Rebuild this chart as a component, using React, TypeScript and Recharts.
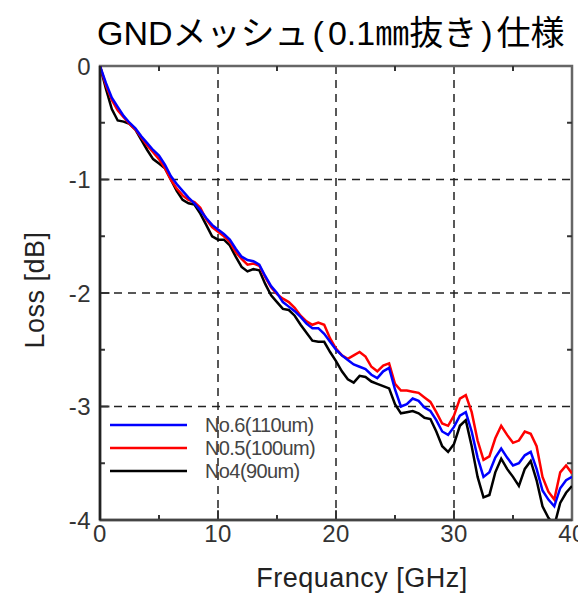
import {
  LineChart,
  Line,
  XAxis,
  YAxis,
  CartesianGrid,
  ReferenceLine,
  ReferenceArea,
  Legend,
  Label,
} from 'recharts';

// frequency points [GHz]
const FREQ = [
  0, 0.5, 1, 1.5, 2, 2.5, 3, 3.5, 4, 4.5,
  5, 5.5, 6, 6.5, 7, 7.5, 8, 8.5, 9, 9.5,
  10, 10.5, 11, 11.5, 12, 12.5, 13, 13.5, 14, 14.5,
  15, 15.5, 16, 16.5, 17, 17.5, 18, 18.5, 19, 19.5,
  20, 20.5, 21, 21.5, 22, 22.5, 23, 23.5, 24, 24.5,
  25, 25.5, 26, 26.5, 27, 27.5, 28, 28.5, 29, 29.5,
  30, 30.5, 31, 31.5, 32, 32.5, 33, 33.5, 34, 34.5,
  35, 35.5, 36, 36.5, 37, 37.5, 38, 38.5, 39, 39.5,
  40,
];

// loss [dB]
const NO6_110UM = [
  0, -0.15, -0.28, -0.36, -0.44, -0.5, -0.55, -0.62, -0.68, -0.74,
  -0.79, -0.87, -0.97, -1.04, -1.1, -1.16, -1.21, -1.27, -1.34, -1.4,
  -1.44, -1.48, -1.53, -1.61, -1.68, -1.71, -1.72, -1.75, -1.85, -1.94,
  -2.0, -2.08, -2.12, -2.16, -2.21, -2.27, -2.31, -2.31, -2.36, -2.43,
  -2.5, -2.55, -2.59, -2.63, -2.65, -2.67, -2.72, -2.75, -2.69, -2.66,
  -2.85, -3.0, -2.98, -2.93, -2.95, -3.01, -3.04, -3.12, -3.22, -3.25,
  -3.18, -3.08, -3.05, -3.22, -3.45, -3.62, -3.58, -3.45, -3.37, -3.45,
  -3.52, -3.5, -3.43, -3.4, -3.55, -3.74, -3.82, -3.88, -3.72, -3.65,
  -3.62,
];

const NO5_100UM = [
  0, -0.17, -0.3, -0.39, -0.45, -0.51, -0.56, -0.63, -0.7, -0.76,
  -0.82, -0.9, -1.0, -1.08, -1.14, -1.18, -1.2, -1.25, -1.35, -1.42,
  -1.46, -1.5, -1.55, -1.64, -1.7, -1.75, -1.74, -1.76, -1.86, -1.95,
  -2.01, -2.05, -2.08, -2.13, -2.2, -2.25, -2.28, -2.26, -2.28, -2.4,
  -2.49, -2.55, -2.58, -2.55, -2.52, -2.56, -2.65, -2.69, -2.64, -2.62,
  -2.8, -2.86, -2.86, -2.87, -2.88, -2.92, -2.96, -3.05, -3.15, -3.17,
  -3.08, -2.93, -2.9, -3.05, -3.3, -3.47, -3.44, -3.28, -3.17, -3.25,
  -3.32, -3.3, -3.22, -3.24, -3.35, -3.62, -3.75, -3.82, -3.58, -3.52,
  -3.59,
];

const NO4_90UM = [
  0, -0.2, -0.38, -0.48, -0.49, -0.51, -0.56, -0.65, -0.74, -0.82,
  -0.86, -0.9, -1.0, -1.1, -1.18, -1.21, -1.22, -1.3, -1.4, -1.5,
  -1.53, -1.53, -1.58, -1.68, -1.77, -1.81, -1.79, -1.8, -1.92, -2.02,
  -2.08, -2.14, -2.15, -2.2, -2.28, -2.35, -2.42, -2.43, -2.43, -2.52,
  -2.6, -2.69, -2.76, -2.79, -2.73, -2.74, -2.78, -2.8, -2.82, -2.84,
  -2.98, -3.06, -3.05, -3.04, -3.06, -3.1, -3.11, -3.22, -3.35, -3.4,
  -3.33, -3.17, -3.12, -3.35, -3.62, -3.8, -3.78, -3.58, -3.46, -3.55,
  -3.62, -3.7, -3.55, -3.48, -3.65, -3.88, -3.98, -4.05, -3.85, -3.76,
  -3.7,
];

const X_TICKS = [0, 10, 20, 30, 40];
const Y_TICKS = [0, -1, -2, -3, -4];
const X_MINOR = [5, 15, 25, 35];
const Y_MINOR = [-0.5, -1.5, -2.5, -3.5];

const SERIES = [
  { key: 'no4', name: 'No4(90um)', color: '#000000' },
  { key: 'no5', name: 'N0.5(100um)', color: '#ff0000' },
  { key: 'no6', name: 'No.6(110um)', color: '#0000ff' },
];
const LEGEND_ORDER = ['no6', 'no5', 'no4'];

const data = FREQ.map((f, i) => ({
  freq: f,
  no6: NO6_110UM[i],
  no5: NO5_100UM[i],
  no4: NO4_90UM[i],
}));

const FONT = "'Liberation Sans', Arial, 'Noto Sans CJK JP', sans-serif";
const tickStyle = { fontSize: 24, fill: '#333', fontFamily: FONT, letterSpacing: 0.5 };

// inward tick lengths in data units
const TX_MINOR = 0.42;
const TY_MINOR = 0.045;
const TX_MAJOR = 0.8;
const TY_MAJOR = 0.085;

const LegendBox = () => (
  <svg width={260} height={72}>
    {LEGEND_ORDER.map((k, i) => {
      const s = SERIES.find(x => x.key === k)!;
      const y = 12 + i * 23;
      return (
        <g key={k}>
          <line x1={0} x2={77} y1={y} y2={y} stroke={s.color} strokeWidth={2.5} />
          <text
            x={95}
            y={y}
            dominantBaseline='central'
            fontSize={20}
            fill='#444'
            letterSpacing={-0.6}
            fontFamily={FONT}
          >
            {s.name}
          </text>
        </g>
      );
    })}
  </svg>
);

const YTitle = (props: any) => {
  const vb = props.viewBox;
  const cx = 27;
  const cy = vb.y + vb.height / 2 - 3;
  return (
    <text
      x={cx}
      y={cy}
      transform={`rotate(-90, ${cx}, ${cy})`}
      textAnchor='middle'
      dominantBaseline='central'
      fontSize={27}
      letterSpacing={0.5}
      fill='#222'
      fontFamily={FONT}
    >
      Loss [dB]
    </text>
  );
};

const XTitle = (props: any) => {
  const vb = props.viewBox;
  const cx = vb.x + vb.width / 2 + 26;
  return (
    <text
      x={cx}
      y={570}
      textAnchor='middle'
      dominantBaseline='central'
      fontSize={27}
      letterSpacing={0.5}
      fill='#222'
      fontFamily={FONT}
    >
      Frequancy [GHz]
    </text>
  );
};

const paren = { margin: '0 4px' };

const App = () => {
  return (
    <div style={{ position: 'relative', width: 578, height: 587 }}>
      <div
        style={{
          position: 'absolute',
          left: 89,
          top: 5,
          fontSize: 34,
          fontFamily: FONT,
          color: '#000',
          whiteSpace: 'nowrap',
          lineHeight: '40px',
        }}
      >
        GNDメッシュ<span style={paren}>(</span>0.1㎜抜き<span style={paren}>)</span>仕様
      </div>
      <LineChart
        width={578}
        height={587}
        data={data}
        margin={{ top: 58, right: 14, bottom: 0, left: 0 }}
      >
        <CartesianGrid
          stroke='#222'
          strokeWidth={1.5}
          strokeDasharray='8 6'
          horizontalValues={[-1, -2, -3]}
          verticalValues={[10, 20, 30]}
        />
        <ReferenceArea x1={0} x2={40} y1={-4} y2={0} fill='none' stroke='#666' strokeWidth={2.5} />
        {X_MINOR.map(v => (
          <ReferenceLine key={`xb${v}`} segment={[{ x: v, y: -4 }, { x: v, y: -4 + TY_MINOR }]} stroke='#333' strokeWidth={2} />
        ))}
        {X_MINOR.map(v => (
          <ReferenceLine key={`xt${v}`} segment={[{ x: v, y: 0 }, { x: v, y: -TY_MINOR }]} stroke='#333' strokeWidth={2} />
        ))}
        {[10, 20, 30].map(v => (
          <ReferenceLine key={`xm${v}`} segment={[{ x: v, y: -4 }, { x: v, y: -4 + TY_MAJOR }]} stroke='#333' strokeWidth={2} />
        ))}
        {Y_MINOR.map(v => (
          <ReferenceLine key={`yl${v}`} segment={[{ x: 0, y: v }, { x: TX_MINOR, y: v }]} stroke='#333' strokeWidth={2} />
        ))}
        {Y_MINOR.map(v => (
          <ReferenceLine key={`yr${v}`} segment={[{ x: 40, y: v }, { x: 40 - TX_MINOR, y: v }]} stroke='#333' strokeWidth={2} />
        ))}
        {[-1, -2, -3].map(v => (
          <ReferenceLine key={`ym${v}`} segment={[{ x: 0, y: v }, { x: TX_MAJOR, y: v }]} stroke='#333' strokeWidth={2} />
        ))}
        <XAxis
          dataKey='freq'
          type='number'
          domain={[0, 40]}
          ticks={X_TICKS}
          height={75}
          tickSize={0}
          tickMargin={5}
          tick={tickStyle}
          axisLine={{ stroke: '#444', strokeWidth: 2.5 }}
          tickLine={false}
          allowDataOverflow
        >
          <Label content={<XTitle />} />
        </XAxis>
        <YAxis
          type='number'
          domain={[-4, 0]}
          ticks={Y_TICKS}
          width={92}
          tickSize={0}
          tickMargin={9}
          tick={tickStyle}
          axisLine={{ stroke: '#222', strokeWidth: 2.5 }}
          tickLine={false}
          allowDataOverflow
        >
          <Label content={<YTitle />} />
        </YAxis>
        <Legend
          layout='vertical'
          align='center'
          verticalAlign='middle'
          content={<LegendBox />}
          wrapperStyle={{ position: 'absolute', left: 102, top: 405, width: 260, height: 72 }}
        />
        {SERIES.map(s => (
          <Line
            key={s.key}
            dataKey={s.key}
            name={s.name}
            stroke={s.color}
            strokeWidth={2.5}
            dot={false}
            type='linear'
            isAnimationActive={false}
          />
        ))}
      </LineChart>
    </div>
  );
};

export default App;
